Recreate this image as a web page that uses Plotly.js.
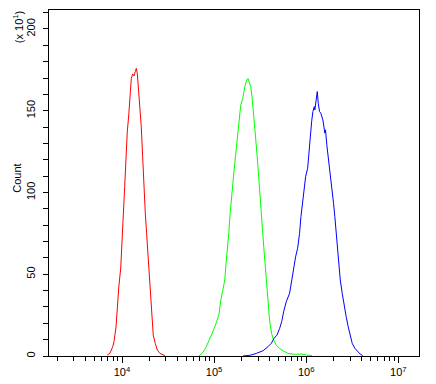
<!DOCTYPE html>
<html>
<head>
<meta charset="utf-8">
<script src="https://cdn.plot.ly/plotly-3.0.1.min.js"></script>
<style>html,body{margin:0;padding:0;background:#fff;}#chart{width:436px;height:384px;}</style>
</head>
<body>
<div id="chart"></div>
<script>
// Exponents (log10 of fluorescence intensity) and counts (x10^1)
const redLogX = [3.841,3.870,3.899,3.913,3.935,3.949,3.964,3.986,4.000,4.014,4.029,4.043,4.057,4.073,4.087,4.101,4.116,4.130,4.144,4.155,4.166,4.181,4.195,4.209,4.224,4.238,4.252,4.267,4.282,4.296,4.311,4.325,4.339,4.361,4.383,4.412,4.447,4.466];
const redCount = [0.6,1.8,5.7,8.8,17.9,30.2,41.6,53.8,66.9,86.3,103.6,122.9,137.1,147.4,158.6,169.9,172.5,171.3,173.9,175.9,172.9,161.6,152.5,140.2,121.9,98.4,88.2,75.0,60.7,48.5,36.3,24.1,12.8,7.7,3.7,1.6,0.6,0.2];

const greenLogX = [4.834,4.870,4.907,4.943,4.979,5.015,5.051,5.073,5.094,5.116,5.130,5.145,5.159,5.174,5.189,5.203,5.217,5.232,5.246,5.260,5.275,5.289,5.311,5.333,5.354,5.368,5.384,5.398,5.412,5.428,5.442,5.456,5.471,5.485,5.499,5.515,5.529,5.543,5.559,5.573,5.587,5.602,5.624,5.646,5.674,5.709,5.752,5.802,5.874,5.947,6.004,6.062];
const greenCount = [0,1.6,4.7,8.8,13.9,18.9,25.1,34.3,39.4,46.5,56.7,64.8,75.0,87.2,98.4,106.5,113.7,121.8,130.0,138.2,146.3,153.4,157.5,164.6,168.7,169.7,167.1,164.6,158.5,149.3,140.2,130.0,119.8,107.6,95.4,84.2,75.0,63.8,52.6,40.4,32.2,22.0,13.9,9.8,6.7,4.7,3.1,1.6,1.0,1.2,0.6,0.2];

const blueLogX = [5.314,5.387,5.459,5.531,5.585,5.622,5.650,5.683,5.712,5.734,5.755,5.784,5.820,5.842,5.863,5.885,5.907,5.928,5.943,5.958,5.972,5.994,6.016,6.029,6.044,6.059,6.073,6.088,6.094,6.110,6.120,6.131,6.145,6.159,6.181,6.203,6.210,6.224,6.239,6.261,6.283,6.297,6.311,6.326,6.340,6.354,6.370,6.391,6.413,6.434,6.456,6.478,6.500,6.528,6.557,6.586,6.614];
const blueCount = [0,0.4,1.6,3.2,5.7,7.8,10.8,12.8,16.9,21.0,27.1,33.2,38.4,46.5,54.6,60.7,65.9,75.0,85.2,92.4,101.6,109.7,114.8,125.0,136.3,143.4,149.5,152.5,150.5,157.7,161.7,154.6,149.5,148.5,144.4,136.3,138.3,129.1,121.9,113.7,103.6,93.4,85.2,75.0,64.8,55.6,46.5,38.4,30.2,24.1,17.9,11.8,7.7,4.7,2.6,1.2,0.2];

const decades = [1e4, 1e5, 1e6, 1e7];
const decadeLabels = ['10<sup>4</sup>','10<sup>5</sup>','10<sup>6</sup>','10<sup>7</sup>'];
const minorMultipliers = [2,3,4,5,6,7,8,9];
const minorDecades = [1e3,1e4,1e5,1e6];
const yTickVals = [0,50,100,150,200];
const yMinorVals = [10,20,30,40,60,70,80,90,110,120,130,140,160,170,180,190,210];

const toX = arr => arr.map(v => Math.pow(10, v));
const minorX = [];
minorDecades.forEach(d => minorMultipliers.forEach(m => { if (d*m > 1700) minorX.push(d*m); }));

const font = {family: 'Liberation Sans, Arial, sans-serif', size: 11, color: '#000'};

const traces = [
  {x: toX(redLogX), y: redCount, type: 'scatter', mode: 'lines', line: {color: '#ff0000', width: 1}},
  {x: toX(greenLogX), y: greenCount, type: 'scatter', mode: 'lines', line: {color: '#00ff00', width: 1}},
  {x: toX(blueLogX), y: blueCount, type: 'scatter', mode: 'lines', line: {color: '#0000ff', width: 1}}
];

const layout = {
  width: 436, height: 384,
  margin: {l: 49, r: 17, t: 10, b: 28},
  paper_bgcolor: '#fff', plot_bgcolor: '#fff',
  showlegend: false,
  font: font,
  xaxis: {
    type: 'log', range: [3.207, 7.225],
    tickmode: 'array', tickvals: decades, ticktext: decadeLabels,
    ticks: 'outside', ticklen: 6, tickcolor: '#000', tickwidth: 1,
    minor: {tickmode: 'array', tickvals: minorX, ticks: 'outside', ticklen: 4, tickcolor: '#000', tickwidth: 1},
    showline: true, linecolor: '#000', linewidth: 1, mirror: true,
    showgrid: false, zeroline: false,
    tickfont: font
  },
  yaxis: {
    range: [0, 211.6],
    tickmode: 'array', tickvals: yTickVals,
    ticks: 'outside', ticklen: 5, tickcolor: '#000', tickwidth: 1,
    minor: {tickmode: 'array', tickvals: yMinorVals, ticks: 'outside', ticklen: 5, tickcolor: '#000', tickwidth: 1},
    tickangle: -90,
    ticklabelstandoff: 4,
    showline: true, linecolor: '#000', linewidth: 1, mirror: true,
    showgrid: false, zeroline: false,
    tickfont: font
  },
  annotations: [
    {text: 'Count', xref: 'paper', yref: 'paper', x: -0.085, y: 0.514, textangle: -90, showarrow: false, font: font, xanchor: 'center', yanchor: 'middle'},
    {text: '(x 10<sup>1</sup>)', xref: 'paper', yref: 'paper', x: -0.085, y: 0.949, textangle: -90, showarrow: false, font: font, xanchor: 'center', yanchor: 'middle'}
  ]
};

Plotly.newPlot('chart', traces, layout, {staticPlot: true, displayModeBar: false});
</script>
</body>
</html>
